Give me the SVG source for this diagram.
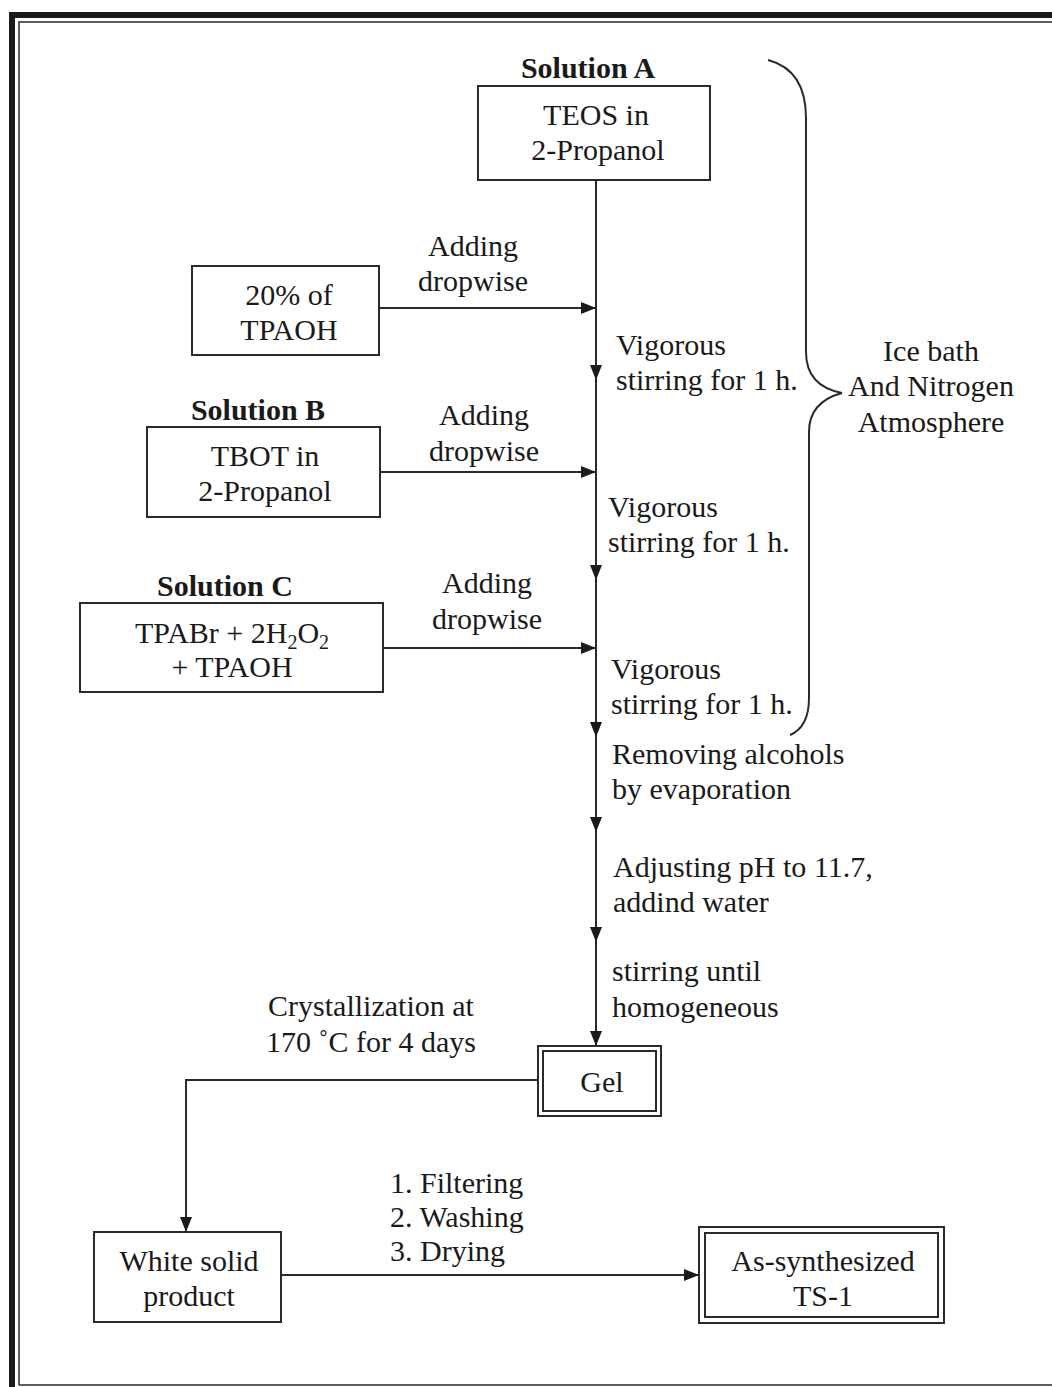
<svg xmlns="http://www.w3.org/2000/svg" width="1052" height="1387" viewBox="0 0 1052 1387">
<style>
text{font-family:"Liberation Serif","Times New Roman",serif;font-size:30px;fill:#1a1a1a}
.b{font-weight:bold}
.m{text-anchor:middle}
.box{fill:#fff;stroke:#2a2a2a;stroke-width:2}
.ln{fill:none;stroke:#2a2a2a;stroke-width:2}
</style>
<defs>
<marker id="ah" markerUnits="userSpaceOnUse" markerWidth="16" markerHeight="14" refX="15" refY="7" orient="auto">
<path d="M0,1 L15,7 L0,13 Z" fill="#1a1a1a"/>
</marker>
</defs>
<rect width="1052" height="1387" fill="#fff"/>
<g id="frame">
<path d="M12,1392 V15 H1060" fill="none" stroke="#1a1a1a" stroke-width="6"/>
<path d="M19,1385 V22 H1060" fill="none" stroke="#2a2a2a" stroke-width="1.5"/>
<path d="M19,1385 H1060" fill="none" stroke="#2a2a2a" stroke-width="1.5"/>
</g>
<g id="connectors">
<path class="ln" d="M596,180 V380" marker-end="url(#ah)"/>
<path class="ln" d="M596,380 V580" marker-end="url(#ah)"/>
<path class="ln" d="M596,580 V737" marker-end="url(#ah)"/>
<path class="ln" d="M596,737 V832" marker-end="url(#ah)"/>
<path class="ln" d="M596,832 V942" marker-end="url(#ah)"/>
<path class="ln" d="M596,942 V1046" marker-end="url(#ah)"/>
<path class="ln" d="M379,308 H596" marker-end="url(#ah)"/>
<path class="ln" d="M380,472 H596" marker-end="url(#ah)"/>
<path class="ln" d="M383,648 H596" marker-end="url(#ah)"/>
<path class="ln" d="M538,1080 H186 V1232" marker-end="url(#ah)"/>
<path class="ln" d="M281,1275 H699" marker-end="url(#ah)"/>
</g>
<g id="brace">
<path class="ln" stroke-width="2.8" d="M768,60 Q806,70 806,118 V352 Q806,386 842,393 Q809,402 809,432 V698 Q809,727 790,735"/>
</g>
<g id="solA">
<text class="b m" x="588" y="78">Solution A</text>
<rect class="box" x="478" y="86" width="232" height="94"/>
<text class="m" x="596" y="125">TEOS in</text>
<text class="m" x="598" y="160">2-Propanol</text>
</g>
<g id="tpaoh">
<rect class="box" x="192" y="266" width="187" height="89"/>
<text class="m" x="289" y="305">20% of</text>
<text class="m" x="289" y="340">TPAOH</text>
</g>
<g id="solB">
<text class="b m" x="258" y="420">Solution B</text>
<rect class="box" x="147" y="427" width="233" height="90"/>
<text class="m" x="265" y="466">TBOT in</text>
<text class="m" x="265" y="501">2-Propanol</text>
</g>
<g id="solC">
<text class="b m" x="225" y="596">Solution C</text>
<rect class="box" x="80" y="603" width="303" height="89"/>
<text class="m" x="232" y="643">TPABr + 2H<tspan font-size="20" dy="6">2</tspan><tspan dy="-6">O</tspan><tspan font-size="20" dy="6">2</tspan></text>
<text class="m" x="232" y="677">+ TPAOH</text>
</g>
<g id="labels">
<text class="m" x="473" y="256">Adding</text>
<text class="m" x="473" y="291">dropwise</text>
<text class="m" x="484" y="425">Adding</text>
<text class="m" x="484" y="461">dropwise</text>
<text class="m" x="487" y="593">Adding</text>
<text class="m" x="487" y="629">dropwise</text>
<text x="616" y="355">Vigorous</text>
<text x="616" y="390">stirring for 1 h.</text>
<text x="608" y="517">Vigorous</text>
<text x="608" y="552">stirring for 1 h.</text>
<text x="611" y="679">Vigorous</text>
<text x="611" y="714">stirring for 1 h.</text>
<text x="612" y="764">Removing alcohols</text>
<text x="612" y="799">by evaporation</text>
<text x="613" y="877">Adjusting pH to 11.7,</text>
<text x="613" y="912">addind water</text>
<text x="612" y="981">stirring until</text>
<text x="612" y="1017">homogeneous</text>
<text class="m" x="931" y="361">Ice bath</text>
<text class="m" x="931" y="396">And Nitrogen</text>
<text class="m" x="931" y="432">Atmosphere</text>
<text class="m" x="371" y="1016">Crystallization at</text>
<text class="m" x="371" y="1052">170 ˚C for 4 days</text>
<text x="390" y="1193">1. Filtering</text>
<text x="390" y="1227">2. Washing</text>
<text x="390" y="1261">3. Drying</text>
</g>
<g id="gel">
<rect class="box" x="538" y="1046" width="123" height="70"/>
<rect class="box" x="543" y="1051" width="113" height="60"/>
<text class="m" x="602" y="1092">Gel</text>
</g>
<g id="white">
<rect class="box" x="94" y="1232" width="187" height="90"/>
<text class="m" x="189" y="1271">White solid</text>
<text class="m" x="189" y="1306">product</text>
</g>
<g id="ts1">
<rect class="box" x="699" y="1227" width="245" height="96"/>
<rect class="box" x="705" y="1233" width="233" height="84"/>
<text class="m" x="823" y="1271">As-synthesized</text>
<text class="m" x="823" y="1306">TS-1</text>
</g>
</svg>
